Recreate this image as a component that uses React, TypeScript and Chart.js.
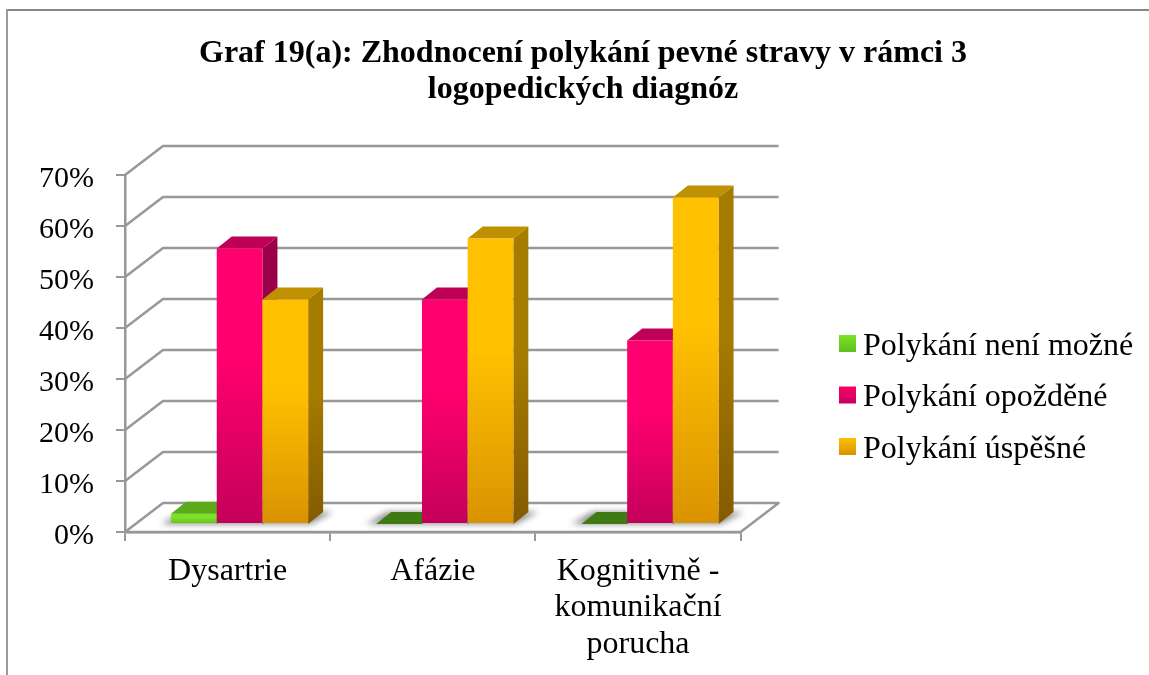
import React, { useEffect, useRef } from "react";
import { Chart, registerables } from "chart.js";

Chart.register(...registerables);

const FONT = "'Liberation Serif', 'Times New Roman', serif";
const titleLines = ["Graf 19(a): Zhodnocení polykání pevné stravy v rámci 3", "logopedických diagnóz"];
const categories: (string | string[])[] = ["Dysartrie", "Afázie", ["Kognitivně -", "komunikační", "porucha"]];
const seriesNames = ["Polykání není možné", "Polykání opožděné", "Polykání úspěšné"];
const notPossible = [2, 0, 0];
const delayed = [54, 44, 36];
const successful = [44, 56, 64];
const yTicksMax = 70;
const yStep = 10;

const GRID = "#989898";
// front light, front dark, top, side light, side dark
const palette = [
  ["#7BE226", "#5EBE1A", "#5BAA1A", "#4F9416", "#3F7A10"],
  ["#FF006E", "#C4005A", "#BE0056", "#9C004A", "#7E003C"],
  ["#FFC000", "#D99200", "#BF9000", "#A67C00", "#855A00"],
];
const zeroTop = "#3F7A14";

const PLANE = { dx: 12, dy: -8 };
const WALL = { dx: 38, dy: -29 };
const DEPTH = { dx: 15, dy: -12 };

function frontGradient(chart: any, datasetIndex: number, value: number) {
  const y = chart.scales.y;
  const c = palette[datasetIndex];
  const top = y.getPixelForValue(value);
  const bottom = y.getPixelForValue(0);
  if (!(bottom > top)) return c[0];
  const g = chart.ctx.createLinearGradient(0, top, 0, bottom);
  g.addColorStop(0, c[0]);
  g.addColorStop(0.4, c[0]);
  g.addColorStop(1, c[1]);
  return g;
}

const stagePlugin = {
  id: "stage",
  afterLayout(chart: any) {
    const legend = chart.legend;
    const pad = legend.options.labels.padding;
    const h = legend.height;
    legend.left = 844 - pad;
    legend.right = 1149;
    legend.top = 330.5 - pad;
    legend.bottom = legend.top + h + pad;
    chart.titleBlock.left = 0;
    chart.titleBlock.right = 1166;
    chart.scales.y.getLabelItems(chart.chartArea).forEach((item: any) => {
      item.options.translation[1] += 4;
    });
  },
  beforeDraw(chart: any) {
    const { ctx, width, height } = chart;
    ctx.save();
    ctx.fillStyle = "#ffffff";
    ctx.fillRect(0, 0, width, height);
    ctx.fillStyle = "#878787";
    ctx.fillRect(6, 9, width - 6, 2);
    ctx.fillStyle = "#9a9a9a";
    ctx.fillRect(6, 9, 2, height - 9);
    ctx.restore();
  },
  beforeDatasetsDraw(chart: any) {
    const { ctx, chartArea, scales } = chart;
    const { left, right } = chartArea;
    const y = scales.y;
    const y0 = y.getPixelForValue(0);
    ctx.save();
    ctx.strokeStyle = GRID;
    ctx.lineWidth = 2.5;
    ctx.lineJoin = "round";
    // floor
    ctx.beginPath();
    ctx.moveTo(left, y0);
    ctx.lineTo(left + WALL.dx, y0 + WALL.dy);
    ctx.lineTo(right + WALL.dx, y0 + WALL.dy);
    ctx.lineTo(right, y0);
    ctx.lineTo(left, y0);
    ctx.stroke();
    // walls
    for (let v = yStep; v <= yTicksMax; v += yStep) {
      const p = y.getPixelForValue(v);
      ctx.beginPath();
      ctx.moveTo(left, p);
      ctx.lineTo(left + WALL.dx, p + WALL.dy);
      ctx.lineTo(right + WALL.dx, p + WALL.dy);
      ctx.stroke();
    }
    // soft shadows on the floor
    const first = chart.getDatasetMeta(0).data;
    const last = chart.getDatasetMeta(2).data;
    ctx.fillStyle = "rgba(110,110,110,0.8)";
    ctx.filter = "blur(3px)";
    categories.forEach((_, i) => {
      const l = first[i].x - first[i].width / 2 + PLANE.dx;
      const r = last[i].x + last[i].width / 2 + PLANE.dx;
      const b = y0 + PLANE.dy;
      ctx.beginPath();
      ctx.moveTo(l - 10, b);
      ctx.lineTo(l + DEPTH.dx - 4, b + DEPTH.dy);
      ctx.lineTo(r + DEPTH.dx + 10, b + DEPTH.dy);
      ctx.lineTo(r + 2, b);
      ctx.closePath();
      ctx.fill();
    });
    ctx.filter = "none";
    ctx.restore();

    // bars, left to right so each hides the side face of its left neighbour
    [0, 1, 2].forEach((index) => {
      const meta = chart.getDatasetMeta(index);
      const c = palette[index];
      ctx.save();
      ctx.translate(PLANE.dx, PLANE.dy);
      meta.data.forEach((bar: any) => {
        const l = bar.x - bar.width / 2;
        const r = bar.x + bar.width / 2;
        const t = bar.y;
        const isZero = Math.abs(y0 - t) < 0.5;
        if (!isZero) {
          const g = ctx.createLinearGradient(0, t, 0, y0);
          g.addColorStop(0, c[3]);
          g.addColorStop(0.4, c[3]);
          g.addColorStop(1, c[4]);
          ctx.fillStyle = g;
          ctx.beginPath();
          ctx.moveTo(r, t);
          ctx.lineTo(r + DEPTH.dx, t + DEPTH.dy);
          ctx.lineTo(r + DEPTH.dx, y0 + DEPTH.dy);
          ctx.lineTo(r, y0);
          ctx.closePath();
          ctx.fill();
        }
        ctx.fillStyle = isZero ? zeroTop : c[2];
        ctx.beginPath();
        ctx.moveTo(l, t);
        ctx.lineTo(l + DEPTH.dx, t + DEPTH.dy);
        ctx.lineTo(r + DEPTH.dx, t + DEPTH.dy);
        ctx.lineTo(r, t);
        ctx.closePath();
        ctx.fill();
      });
      meta.controller.draw();
      ctx.restore();
    });
    return false;
  },
  afterDraw(chart: any) {
    const { ctx, legend } = chart;
    const pad = legend.options.labels.padding;
    ctx.save();
    seriesNames.forEach((_, i) => {
      const rowHeight = legend.options.labels.font.size;
      const top = 335 + i * (rowHeight + pad);
      const x = legend.left + pad - 5;
      const g = ctx.createLinearGradient(0, top, 0, top + 17);
      g.addColorStop(0, palette[i][0]);
      g.addColorStop(1, palette[i][1]);
      ctx.fillStyle = g;
      ctx.fillRect(x, top, 17, 17);
    });
    ctx.restore();
  },
};

export default function App() {
  const ref = useRef<HTMLCanvasElement | null>(null);
  useEffect(() => {
    const canvas = ref.current;
    if (!canvas) return;
    const seriesValues = [notPossible, delayed, successful];
    const chart = new Chart(canvas, {
      type: "bar",
      plugins: [stagePlugin],
      data: {
        labels: categories as any,
        datasets: seriesValues.map((data, i) => ({
          label: seriesNames[i],
          data,
          clip: false,
          borderWidth: 0,
          categoryPercentage: 0.668,
          barPercentage: 1,
          backgroundColor: (c: any) =>
            typeof c.raw === "number" ? frontGradient(c.chart, i, c.raw) : palette[i][0],
        })) as any,
      },
      options: {
        responsive: false,
        animation: false,
        layout: { padding: { left: 0, right: 161.5, top: 0, bottom: 0 } },
        plugins: {
          tooltip: { enabled: false },
          title: {
            display: true,
            text: titleLines,
            color: "#000",
            font: { family: FONT, size: 32, weight: "bold", lineHeight: 36 / 32 },
            padding: { top: 36, bottom: 67 },
          },
          legend: {
            display: true,
            position: "right",
            align: "start",
            labels: {
              color: "#000",
              font: { family: FONT, size: 32 },
              boxWidth: 3,
              boxHeight: 3,
              padding: 19.5,
              generateLabels: (c: any) =>
                Chart.defaults.plugins.legend.labels.generateLabels(c).map((it: any) => ({
                  ...it,
                  fillStyle: "transparent",
                  strokeStyle: "transparent",
                  lineWidth: 0,
                })),
            },
          },
        },
        scales: {
          x: {
            afterFit: (s: any) => {
              s.height = 143;
            },
            grid: { drawOnChartArea: false, color: GRID, lineWidth: 2, tickLength: 9 },
            border: { color: GRID, width: 2.5 },
            ticks: {
              color: "#000",
              maxRotation: 0,
              autoSkip: false,
              padding: 12,
              font: { family: FONT, size: 32, lineHeight: 36.5 / 32 },
            },
          },
          y: {
            min: 0,
            max: yTicksMax,
            afterFit: (s: any) => {
              s.width = 125;
            },
            grid: { drawOnChartArea: false, color: GRID, lineWidth: 2, tickLength: 9 },
            border: { color: GRID, width: 2.5 },
            ticks: {
              stepSize: yStep,
              color: "#000",
              padding: 22,
              font: { family: FONT, size: 30 },
              callback: (v: any) => `${v}%`,
            },
          },
        },
      },
    } as any);
    return () => chart.destroy();
  }, []);
  return (
    <div style={{ position: "absolute", left: 0, top: 0, width: 1149, height: 675, overflow: "hidden" }}>
      <canvas ref={ref} width={1149} height={675} style={{ display: "block" }} />
    </div>
  );
}
